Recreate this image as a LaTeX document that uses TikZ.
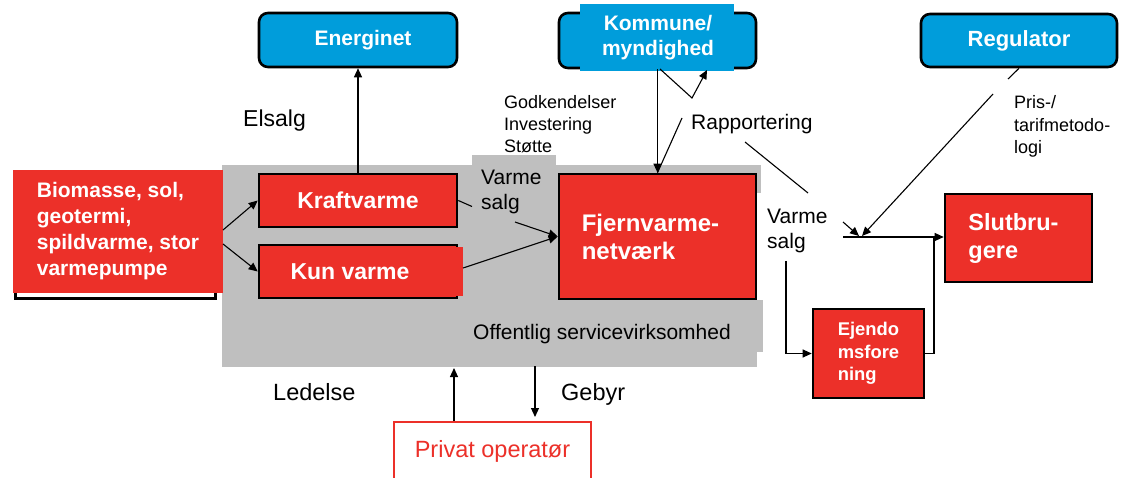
\documentclass[tikz,border=0pt]{standalone}
\usepackage{fontspec}
\setmainfont{Liberation Sans}
\usetikzlibrary{arrows.meta}
\definecolor{boxred}{RGB}{236,48,41}
\definecolor{boxblue}{RGB}{0,157,219}
\definecolor{zonegray}{RGB}{191,191,191}
\newcommand{\fsz}[2]{\fontsize{#1}{#2}\selectfont}
\begin{document}
\begin{tikzpicture}[x=1pt,y=-1pt,
  redbox/.style={draw=black, line width=2.6pt, fill=boxred, text=white, inner sep=0pt, align=left},
  biobox/.style={fill=boxred, text=white, inner sep=0pt, align=left},
  bluebox/.style={draw=black, line width=2.6pt, fill=boxblue, rounded corners=9pt, text=white, inner sep=0pt, align=center},
  opbox/.style={draw=boxred, line width=1.8pt, fill=white, text=boxred, inner sep=0pt},
  lbl/.style={inner sep=0pt, text=black, align=left},
  link/.style={line width=1.1pt, draw=black},
  arr/.style={link, -{Triangle[length=9pt,width=8pt]}},
]
\useasboundingbox (0,0) rectangle (1121,478);

% public service zone
\fill[zonegray] (222,165) rectangle (757,367);
\fill[zonegray] (472,155) rectangle (556,165);
\fill[zonegray] (757,165) rectangle (761,193);
\fill[zonegray] (757,300) rectangle (763,352);

% heat sources
\draw[line width=3pt] (15,178) rectangle (215,298);
\node[biobox, minimum width=210pt, minimum height=123pt, font=\bfseries\fsz{21}{26}] (bio) at (118,231.5)
  {Biomasse, sol,\\geotermi,\\spildvarme, stor\hspace*{6pt}\\varmepumpe};

% production
\node[redbox, minimum width=198pt, minimum height=53pt, font=\bfseries\fsz{23}{27}] (kraft) at (358,200.5) {Kraftvarme};
\node[redbox, minimum width=198pt, minimum height=53pt, font=\bfseries\fsz{23}{27}] (kun) at (358,271.5) {Kun varme\hspace*{16pt}};
\fill[boxred] (456,247) rectangle (463,296);

% network
\node[redbox, minimum width=197pt, minimum height=125pt, font=\bfseries\fsz{24}{28}] (fjern) at (657.5,236.5) {Fjernvarme-\hspace*{14pt}\\netværk};

% authorities
\node[bluebox, minimum width=198pt, minimum height=54pt, font=\bfseries\fsz{21}{25}] (energi) at (358,40) {\hspace*{10pt}Energinet};
\node[bluebox, minimum width=197pt, minimum height=55pt] (komm) at (657.5,40.5) {};
\fill[boxblue] (580,4) rectangle (734,71);
\node[inner sep=0pt, text=white, align=center, font=\bfseries\fsz{21}{25}] (kommtxt) at (658,38) {Kommune/\\myndighed};
\node[bluebox, minimum width=196pt, minimum height=53pt, font=\bfseries\fsz{22}{26}] (reg) at (1019,40.5) {Regulator};

% customers
\node[redbox, minimum width=147pt, minimum height=88pt, font=\bfseries\fsz{23.5}{28}] (slut) at (1018.5,238) {Slutbru-\hspace*{10pt}\\gere};
\node[redbox, minimum width=111pt, minimum height=89pt, font=\bfseries\fsz{18.4}{22.5}] (ejd) at (868.5,353.5) {Ejendo\\msfore\hspace*{8pt}\\ning};

% private operator
\node[opbox, minimum width=197pt, minimum height=58pt, font=\fsz{23.5}{28}] (priv) at (492.5,451) {Privat operatør};

% labels
\node[lbl, anchor=base west, font=\fsz{23}{27}] (elsalg) at (243,126.3) {Elsalg};
\node[lbl, anchor=north west, font=\fsz{18}{22}] (godk) at (504,95.5) {Godkendelser\\Investering\\Støtte};
\node[lbl, anchor=base west, font=\fsz{21}{25}] (rapp) at (691,129.6) {Rapportering};
\node[lbl, anchor=north west, font=\fsz{21}{25.5}] (vsal1) at (481,169.4) {Varme\\salg};
\node[lbl, anchor=north west, font=\fsz{21}{25.5}] (vsal2) at (767,208.4) {Varme\\salg};
\node[lbl, anchor=north west, font=\fsz{18}{22.5}] (pris) at (1014,95.5) {Pris-/\\tarifmetodo-\\logi};
\node[lbl, anchor=base west, font=\fsz{21}{25}] (offl) at (473,339.6) {Offentlig servicevirksomhed};
\node[lbl, anchor=base west, font=\fsz{23.5}{28}] (led) at (273,400.5) {Ledelse};
\node[lbl, anchor=base west, font=\fsz{23.5}{28}] (geb) at (561,400.5) {Gebyr};

% connector points
\coordinate (b1) at (223,230);
\coordinate (b2) at (223,244);
\coordinate (ks1) at (472,206.5);
\coordinate (ks2) at (515,222);
\coordinate (kv) at (463,268);
\coordinate (r1) at (682,118);
\coordinate (r2) at (660,69);
\coordinate (r3) at (692,98);
\coordinate (r4) at (707,70);
\coordinate (r5) at (745,142);
\coordinate (r6) at (808,193);
\coordinate (r7) at (843,222);
\coordinate (r8) at (859,236);
\coordinate (g1) at (1008,79);
\coordinate (g2) at (993,94);
\coordinate (g3) at (862,236);
\coordinate (h1) at (843,237);
\coordinate (v1) at (786,261);
\coordinate (e1) at (934,237);
\coordinate (p1) at (454,368);
\coordinate (p2) at (535,366);
\coordinate (p3) at (535,417);

% connectors
\draw[arr] (b1) -- (kraft.west);
\draw[arr] (b2) -- (kun.west);
\draw[arr] (kraft.north) -- (energi.south);
\draw[link] (kraft.east) -- (ks1);
\draw[arr] (ks2) -- (fjern.west);
\draw[arr] (kv) -- (fjern.west);
\draw[arr] (komm.south) -- (fjern.north);
\draw[link] (r1) -- (fjern.north);
\draw[arr] (r2) -- (r3) -- (r4);
\draw[link] (r5) -- (r6);
\draw[arr] (r7) -- (r8);
\draw[link] (reg.south) -- (g1);
\draw[arr] (g2) -- (g3);
\draw[arr] (h1) -- (slut.west |- h1);
\draw[arr] (v1) |- (ejd.west);
\draw[link] (ejd.east) -| (e1);
\draw[arr] (p1 |- priv.north) -- (p1);
\draw[arr] (p2) -- (p3);
\end{tikzpicture}
\end{document}
